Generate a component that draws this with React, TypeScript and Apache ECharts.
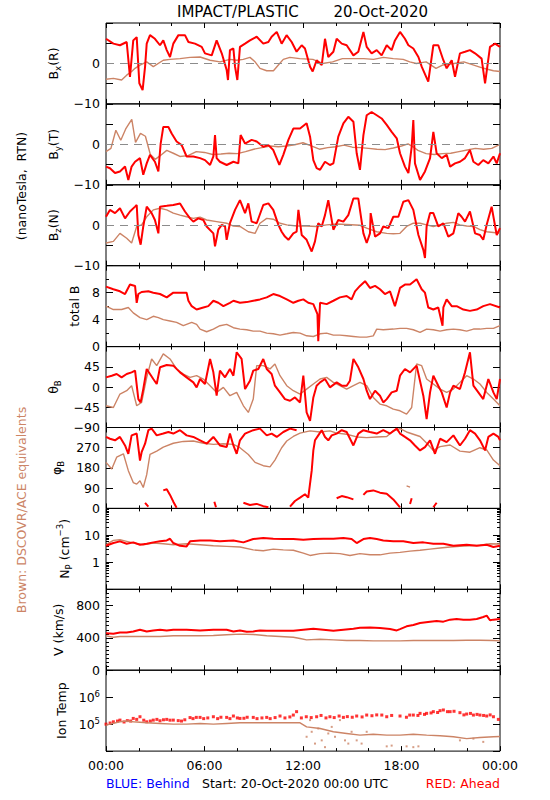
import React, { useEffect, useRef } from 'react';
import * as echarts from 'echarts';

const RED = '#ff0000';
const BROWN = '#cc8466';
const FONT = 'DejaVu Sans';

// x axis: hours since 20-Oct-2020 00:00 UTC
const xTickLabels = ['00:00', '06:00', '12:00', '18:00', '00:00'];

// ---- Bx (R) ----
const bxRed = [[0,6.1],[0.45,4.9],[0.85,4.5],[1.26,5.3],[1.46,-3.3],[1.66,5.7],[1.87,6.5],[2.03,-4.9],[2.23,-6.6],[2.38,-0.8],[2.48,4.9],[2.68,7],[2.98,6.1],[3.29,4.5],[3.49,5.7],[3.7,3.3],[3.9,1.6],[4.1,4.9],[4.41,7],[4.81,7],[5.02,5.3],[5.42,4.9],[5.83,4.1],[6.03,2.5],[6.44,2],[6.74,5.7],[7.05,2.5],[7.35,-1.6],[7.43,-4.1],[7.55,3.3],[7.76,3.7],[7.86,-0.8],[8,-4.1],[8.16,4.1],[8.47,4.9],[8.77,5.7],[9.18,6.6],[9.58,4.9],[9.89,5.3],[10.09,6.6],[10.4,7.8],[10.7,4.9],[11,7],[11.31,5.3],[11.61,2.9],[11.92,4.5],[12.12,3.7],[12.43,-0.8],[12.59,-2],[12.83,0.8],[13.14,-0.4],[13.34,6.1],[13.54,1.6],[13.85,2.9],[14.05,6.1],[14.36,4.9],[14.66,4.5],[15.07,2],[15.37,2.9],[15.68,7.8],[15.88,4.1],[16.18,2.5],[16.49,3.3],[16.79,2],[17.1,4.5],[17.4,3.3],[17.6,5.7],[17.91,7.8],[18.21,6.1],[18.42,4.5],[18.72,3.7],[19.03,1.6],[19.23,-0.8],[19.63,-4.5],[19.94,4.5],[20.24,4.5],[20.55,0.8],[20.75,-1.2],[21.06,0.8],[21.26,-3.3],[21.56,2.5],[21.87,2.9],[22.17,3.3],[22.48,2.5],[22.88,1.2],[23.09,-4.9],[23.39,4.1],[23.7,4.9],[24,4.1]];
const bxBrown = [[0,-3.9],[0.45,-3.7],[0.95,-4.1],[1.26,-2.9],[1.56,-2],[1.77,-1.2],[2.07,-0.4],[2.48,0.4],[2.88,-0.8],[3.49,0.8],[3.9,1],[4.51,1.2],[5.12,1.5],[5.73,1.6],[6.34,0.8],[6.95,0.4],[7.55,1],[7.96,0.8],[8.36,1],[8.77,1.5],[9.08,0.4],[9.38,-1.2],[9.79,-1.8],[10.2,-1.8],[10.5,-0.4],[10.8,1],[11.2,1.5],[11.8,1.2],[12.6,1],[13.2,0],[13.8,0.4],[14.4,1.2],[15,1.2],[15.7,1.2],[16.3,1],[16.9,1.5],[17.5,1.2],[18.1,1],[18.5,0.4],[18.9,0],[19.5,0.4],[20.1,-1.2],[20.5,-0.4],[21.2,0],[21.8,0.4],[22.4,-0.4],[23,-1.2],[23.6,-1.8],[24,-2]];

// ---- By (T) ----
const byRed = [[0,-5.5],[0.24,-5.9],[0.55,-7.1],[0.85,-6.7],[1.16,-5.5],[1.36,-8.8],[1.56,-5.5],[1.77,-4.3],[2.07,-3.4],[2.27,-7.5],[2.48,-4.7],[2.68,-2.6],[2.98,-4.3],[3.19,-6.7],[3.33,0.2],[3.49,4.3],[3.8,4.3],[4,2.7],[4.3,0.7],[4.61,-0.2],[4.91,-3],[5.32,-3],[5.73,-3.4],[6.03,-3.9],[6.34,-5.1],[6.54,-3],[6.64,2.3],[6.74,-3.4],[6.94,-4.3],[7.35,-5.1],[7.76,-4.3],[8.06,-4.7],[8.2,2.3],[8.47,0.2],[8.87,1.1],[9.18,0.7],[9.58,-0.6],[9.89,-0.2],[10.19,-1.4],[10.56,-5.1],[10.8,-2.6],[11.11,1.1],[11.41,3.9],[11.82,3.9],[12.22,5.2],[12.43,1.9],[12.63,-3.9],[12.83,-5.9],[13.04,-6.3],[13.34,-4.3],[13.64,-5.1],[13.85,-4.7],[14.15,1.9],[14.46,5.2],[14.76,6.8],[15.07,5.6],[15.27,-2.2],[15.47,-6.3],[15.68,2.3],[15.88,7.2],[16.18,8],[16.49,7.2],[16.79,6.4],[17.1,4.8],[17.4,3.1],[17.71,1.5],[17.91,-2.2],[18.21,-5.5],[18.42,-7.1],[18.62,-0.6],[18.72,6],[18.82,-4.7],[19.13,-8.8],[19.43,-6.7],[19.74,-3.4],[19.94,3.1],[20.14,-2.2],[20.45,-3.4],[20.75,-2.6],[20.96,-5.5],[21.26,-4.7],[21.56,-4.3],[21.87,-3.4],[22.17,-1.4],[22.38,-4.3],[22.68,-5.1],[22.98,-3.9],[23.29,-4.7],[23.6,-3],[23.8,-4.7],[24,-2.2]];
const byBrown = [[0,-1.8],[0.3,-1],[0.6,3.5],[0.9,1],[1.2,3.8],[1.57,6.2],[1.8,0.5],[2.1,2.7],[2.4,2],[2.7,-2.5],[3,-3.7],[3.3,-2.8],[3.7,-1.5],[4.1,-2.2],[4.5,-3],[5,-2.8],[5.5,-1.8],[6,-2],[6.5,-2.5],[7,-2.4],[7.5,-2.2],[8,-2.3],[8.5,-1.8],[9,-1.2],[9.5,-0.8],[10,-0.4],[10.5,-0.6],[11,-0.4],[11.5,-0.1],[12,0.4],[12.5,-0.4],[13,-1.2],[13.5,-0.8],[14,-0.6],[14.5,-0.2],[15,-0.7],[15.5,-0.8],[16,-1],[16.5,-1.2],[17,-1.3],[17.5,-0.9],[18,-0.4],[18.4,0.1],[18.7,-0.6],[19,-1.5],[19.5,-2.3],[20,-2.5],[20.5,-2.3],[21,-2.2],[21.5,-1.8],[22,-1.4],[22.5,-1],[23,-1.2],[23.5,-1],[24,0]];

// ---- Bz (N) ----
const bzRed = [[0,2.1],[0.24,3.8],[0.55,3],[0.85,4.2],[1.16,1.7],[1.46,3.4],[1.77,4.6],[1.87,5],[1.97,-2.4],[2.11,-4.8],[2.27,-0.3],[2.48,4.6],[2.78,3],[2.98,1.3],[3.19,-2],[3.29,4.6],[3.7,4.8],[4.1,5],[4.51,5.4],[4.81,3.4],[5.12,1.7],[5.32,0.9],[5.62,1.7],[5.93,1.3],[6.13,-0.3],[6.54,-2],[6.64,-5.2],[6.84,-1.1],[7.05,0.1],[7.25,-0.3],[7.35,-3.6],[7.55,0.5],[7.86,3.8],[8.16,6.2],[8.47,3],[8.67,5.4],[8.87,0.9],[9.18,0.5],[9.58,5],[9.89,5.4],[10.19,3.8],[10.5,0.1],[10.7,-1.6],[10.9,-2.8],[11.11,-3.6],[11.41,-2],[11.61,-1.6],[11.72,3.8],[11.92,-2.4],[12.22,-3.6],[12.53,-6.5],[12.73,-4],[12.93,0.5],[13.14,-0.3],[13.34,2.5],[13.54,6.2],[13.85,-1.1],[14.15,1.3],[14.46,0.9],[14.76,2.5],[15.07,6.6],[15.37,6.6],[15.47,3.8],[15.68,-2],[15.88,-4.4],[16.08,-2],[16.12,3],[16.39,-2.8],[16.69,-2],[16.89,-0.3],[17.2,-0.7],[17.5,2.1],[17.81,2.1],[18.11,5.8],[18.42,6.2],[18.72,3.8],[19.03,-2.4],[19.33,-6.1],[19.43,-8.1],[19.53,-0.3],[19.74,3],[19.94,3],[20.24,-0.3],[20.55,0.5],[20.85,-2.8],[21.16,-2],[21.46,3],[21.66,2.1],[21.87,0.9],[22.17,3.4],[22.48,-2],[22.78,-2.4],[22.98,-3.6],[23.19,0.1],[23.49,4.6],[23.8,-2.4],[24,-0.7]];
const bzBrown = [[0,-4.4],[0.45,-4],[0.85,-2],[1.26,-3.2],[1.56,-4.4],[1.87,-0.3],[2.17,0.1],[2.48,2.1],[2.88,3.8],[3.29,4.2],[3.7,3.8],[4.1,3],[4.51,2.5],[4.91,2.1],[5.32,1.7],[5.73,2],[6.13,1.3],[6.74,0.9],[7.35,0.5],[7.76,-0.2],[8.16,-0.3],[8.67,-1.6],[9.08,-2],[9.38,0.5],[9.79,1.7],[10.19,1.5],[10.6,0.5],[11.01,0.1],[11.61,-0.2],[12.22,-0.2],[12.83,-0.3],[13.44,0.1],[14.05,0.3],[14.66,0.2],[15.47,0],[15.88,-0.7],[16.49,-1.6],[17.1,-2],[17.5,-2.1],[17.91,-2],[18.31,-0.3],[18.72,0.5],[19.13,0.5],[19.53,0.1],[19.94,-0.3],[20.35,0.1],[20.75,0.5],[21.16,0.7],[21.56,0.1],[21.97,-0.2],[22.38,-0.3],[22.78,-1.1],[23.19,-1.6],[23.6,-1.8],[24,-2]];

// ---- total B ----
const btRed = [[0,8.9],[0.45,8.5],[0.85,8.2],[1.16,7.8],[1.46,9.2],[1.77,9],[1.87,6.5],[1.97,7.8],[2.17,8.1],[2.58,8.2],[2.88,8],[3.29,7.8],[3.7,7.3],[4.1,8],[4.51,8],[4.91,8],[5.02,6.8],[5.22,6],[5.52,5.5],[5.93,5.8],[6.23,6],[6.54,6.8],[6.84,6.5],[7.15,6],[7.55,6.5],[7.76,6.8],[8.16,6.5],[8.57,6.6],[8.97,6.8],[9.38,7],[9.79,7.3],[10.19,7.8],[10.6,7.5],[11.01,7],[11.41,6.5],[11.72,6.8],[12.02,7],[12.32,6.5],[12.63,6.3],[12.88,4.8],[12.93,0.8],[13.04,6.5],[13.44,6.3],[13.85,6.8],[14.25,7.3],[14.66,7.5],[14.96,7],[15.17,8.2],[15.47,9],[15.78,9.7],[16.08,8.7],[16.39,9],[16.69,8.5],[16.99,7.8],[17.3,8.2],[17.6,6],[17.91,8.7],[18.21,9.2],[18.52,9.2],[18.92,10],[19.23,8.5],[19.43,8],[19.63,5.8],[19.94,5.5],[20.24,5.8],[20.5,3.1],[20.55,5.8],[20.75,7],[21.06,6],[21.36,6],[21.77,5.5],[22.17,5.3],[22.58,5.5],[22.98,6],[23.39,6.3],[24,5.8]];
const btBrown = [[0,6],[0.45,5.5],[0.95,5.5],[1.36,5.8],[1.66,5],[2.07,4.3],[2.48,4],[2.88,4.5],[3.19,4.3],[3.49,4],[3.9,3.8],[4.3,3.6],[4.71,3.1],[5.22,3.6],[5.52,3.3],[5.73,2.6],[6.13,2.2],[6.54,2.6],[6.94,3.1],[7.35,3.3],[7.76,2.8],[8.16,2.6],[8.57,2.5],[8.97,2.3],[9.38,2.3],[9.79,2],[10.19,1.9],[10.6,1.7],[11.01,1.9],[11.41,2.1],[11.82,2],[12.22,1.6],[12.63,1.5],[13.04,1.9],[13.44,2],[13.85,1.7],[14.25,1.7],[14.66,1.6],[15.07,1.5],[15.47,1.4],[15.88,1.4],[16.28,1.6],[16.49,2.6],[16.89,2.5],[17.5,2.6],[17.91,2.7],[18.31,2.7],[18.72,2.5],[19.13,2.1],[19.53,2.6],[19.94,2.5],[20.35,2.3],[20.75,2.5],[21.16,2.6],[21.56,2.5],[21.97,2.3],[22.38,2.6],[22.78,2.6],[23.19,2.7],[23.6,2.7],[24,3.1]];

// ---- theta B ----
const thRed = [[0,21.6],[0.35,25.3],[0.65,29],[0.95,21.6],[1.26,29],[1.56,32.7],[1.77,36.5],[1.97,-26.8],[2.11,-34.2],[2.27,-4.5],[2.48,40.2],[2.68,29],[2.88,17.9],[3.09,6.7],[3.29,43.9],[3.7,49.1],[4.1,47.6],[4.51,32.7],[4.91,21.6],[5.32,10.4],[5.52,-0.7],[5.73,17.9],[6.03,6.7],[6.34,62.5],[6.54,32.7],[6.74,-19.3],[6.94,36.5],[7.25,21.6],[7.55,40.2],[7.76,25.3],[7.96,77.4],[8.26,62.5],[8.47,-4.5],[8.77,14.1],[8.97,36.5],[9.28,40.2],[9.58,62.5],[9.79,40.2],[10.09,29],[10.29,3],[10.6,-11.9],[10.9,-26.8],[11.21,-30.5],[11.51,-23.1],[11.82,-34.2],[12.02,25.3],[12.22,-56.5],[12.43,-75.1],[12.63,-23.1],[12.83,3],[13.04,10.4],[13.34,17.9],[13.64,-0.7],[14.05,10.4],[14.36,3],[14.66,3],[14.86,14.1],[15.07,62.5],[15.37,43.9],[15.68,17.9],[15.88,-8.2],[16.08,-26.8],[16.39,-8.2],[16.69,-19.3],[16.89,-34.2],[17.1,-26.8],[17.4,-11.9],[17.71,-8.2],[17.91,25.3],[18.21,40.2],[18.52,32.7],[18.92,47.6],[19.33,-19.3],[19.53,-71.4],[19.74,-11.9],[19.94,25.3],[20.24,3],[20.45,-11.9],[20.75,-45.4],[20.96,-11.9],[21.16,3],[21.56,-4.5],[21.87,32.7],[22.17,77.4],[22.38,3],[22.68,-11.9],[22.98,-26.8],[23.29,17.9],[23.6,-11.9],[23.8,-26.8],[24,17.9]];
const thBrown = [[0,-41.7],[0.45,-45.4],[0.85,-15.6],[1.26,-8.2],[1.56,3],[1.87,-41.7],[2.17,-34.2],[2.48,21.6],[2.78,62.5],[3.09,47.6],[3.49,73.7],[3.9,62.5],[4.3,40.2],[4.71,29],[5.12,21.6],[5.52,25.3],[5.93,17.9],[6.34,3],[6.74,-11.9],[7.15,-0.7],[7.55,-19.3],[7.96,-11.9],[8.37,-41.7],[8.67,-56.5],[8.97,-26.8],[9.18,47.6],[9.58,47.6],[9.99,40.2],[10.29,51.3],[10.6,25.3],[11.01,3],[11.41,-8.2],[11.82,-15.6],[12.22,-4.5],[12.63,6.7],[13.04,17.9],[13.44,21.6],[13.85,10.4],[14.25,3],[14.66,-4.5],[15.07,3],[15.47,10.4],[15.88,3],[16.28,-23.1],[16.69,-37.9],[17.1,-41.7],[17.5,-49.1],[17.91,-52.8],[18.31,-60.3],[18.62,-45.4],[18.92,51.3],[19.23,47.6],[19.53,17.9],[19.94,6.7],[20.35,-4.5],[20.75,-11.9],[21.16,-4.5],[21.56,10.4],[21.97,25.3],[22.38,17.9],[22.78,6.7],[23.19,-11.9],[23.6,-26.8],[24,-41.7]];

// ---- phi B (null = gap where the angle wraps) ----
const phRed = [[0,318],[0.24,310],[0.55,303],[0.85,318],[1.16,280],[1.36,243],[1.56,325],[1.87,333],[2.07,213],[2.17,250],[2.38,288],[2.58,348],[2.78,355],[3.09,325],[3.49,333],[3.8,340],[4.1,333],[4.51,348],[4.91,325],[5.32,318],[5.73,303],[6.13,288],[6.54,318],[6.94,280],[7.35,273],[7.55,333],[7.76,280],[7.96,243],[8.16,303],[8.47,333],[8.97,348],[9.38,355],[9.79,325],[10.09,333],[10.4,318],[10.8,340],[11.21,355],[11.61,348],[11.7,null],
  [2.38,25],[2.58,8],[2.6,null],
  [3.49,80],[3.7,85],[3.9,60],[4.1,30],[4.3,3],[4.35,null],
  [6.6,30],[6.7,5],[6.75,null],
  [8.37,25],[8.77,15],[9.18,20],[9.58,10],[9.89,5],[9.95,null],
  [11.21,8],[11.51,33],[11.82,48],[12.12,63],[12.32,48],[12.53,168],[12.63,258],[12.73,303],[12.93,325],[13.14,348],[13.34,318],[13.54,303],[13.75,325],[14.05,333],[14.36,348],[14.66,340],[15.07,280],[15.37,333],[15.68,348],[16.08,340],[16.49,333],[16.89,348],[17.3,333],[17.71,355],[17.91,333],[18.21,318],[18.52,303],[18.82,280],[19.13,258],[19.43,273],[19.74,303],[20.04,243],[20.35,310],[20.75,295],[21.16,325],[21.56,280],[21.87,310],[22.17,348],[22.48,333],[22.78,303],[23.09,258],[23.29,318],[23.6,333],[23.9,318],[24,303],[24,null],
  [14.05,45],[14.36,55],[14.66,50],[15.07,40],[15.1,null],
  [15.68,60],[15.88,75],[16.28,80],[16.69,70],[17.1,65],[17.5,40],[17.91,5],[17.95,null],
  [18.52,20],[18.62,45],[18.65,null],
  [19.94,5],[20.14,25]];
const phBrown = [[0,205],[0.35,175],[0.65,228],[1.06,243],[1.36,168],[1.66,115],[1.87,108],[2.07,123],[2.27,93],[2.48,150],[2.68,240],[3.09,255],[3.49,273],[4.1,290],[4.71,298],[5.32,300],[5.93,290],[6.54,285],[7.15,288],[7.76,285],[8.16,270],[8.67,240],[9.08,205],[9.58,190],[9.99,185],[10.29,215],[10.7,270],[11.01,300],[11.41,320],[11.82,335],[12.43,345],[13.04,340],[13.64,345],[14.05,335],[14.66,330],[15.27,318],[15.88,315],[16.49,318],[17.1,320],[17.5,345],[17.91,355],[18.31,340],[18.72,330],[19.13,320],[19.54,290],[19.94,258],[20.35,275],[20.96,282],[21.56,255],[22.17,250],[22.78,270],[23.19,260],[23.6,215],[24,190],[24,null],[18.31,100],[18.52,95]];

// ---- N_P (cm^-3) ----
const npRed = [[0,4.1],[0.45,5.2],[0.85,6],[1.26,4.9],[1.66,5.5],[2.07,4.5],[2.48,4.9],[2.88,5.5],[3.29,6],[3.7,6.5],[3.9,7.5],[4.1,5.2],[4.51,4.1],[4.91,3.9],[5.12,6],[5.73,6.5],[6.34,6.5],[6.94,6],[7.76,6.5],[8.37,5.5],[8.97,7.3],[9.58,8],[10.19,7.5],[10.8,7.3],[11.41,7.3],[12.02,6.9],[12.63,7.3],[13.24,7.5],[13.85,7.5],[14.46,8],[14.96,7.3],[15.27,5.2],[15.68,7.3],[16.08,8],[16.49,7.3],[16.89,6.5],[17.5,6],[18.11,6],[18.72,5.2],[19.33,5.5],[19.94,4.9],[20.55,4.9],[21.16,4.1],[21.97,4.5],[22.58,4.1],[23.19,4.5],[23.6,3.7],[24,4.1]];
const npBrown = [[0,4.5],[0.45,6.5],[0.85,6.9],[1.26,6],[1.66,5.2],[2.27,4.5],[2.88,5.2],[3.49,4.9],[4.1,4.5],[4.91,4.9],[5.73,4.5],[6.54,4.1],[7.35,3.9],[8.16,3.7],[8.97,2.9],[9.58,2.7],[10.19,3.1],[10.8,2.9],[11.41,2.8],[12.02,2.2],[12.43,1.8],[13.04,2.1],[13.64,2.2],[14.25,2.1],[14.86,1.8],[15.47,2.1],[16.08,1.9],[16.69,1.9],[17.3,2.2],[17.91,2.35],[18.52,2.6],[19.13,2.8],[19.74,3.1],[20.35,3.4],[20.96,3.7],[21.56,3.9],[22.17,4.1],[22.78,4.3],[23.39,4.9],[24,4.8]];

// ---- V (km/s) ----
const vRed = [[0,458],[0.45,450],[0.85,467],[1.26,467],[1.66,479],[2.07,500],[2.48,479],[2.88,492],[3.29,500],[3.7,492],[4.1,500],[4.91,500],[5.73,492],[6.54,500],[7.35,500],[7.76,479],[8.16,492],[8.57,475],[8.97,479],[9.38,492],[9.79,488],[10.6,488],[11.41,488],[12.02,500],[12.63,512],[13.24,500],[13.85,488],[14.46,500],[15.07,512],[15.47,525],[16.08,529],[16.69,521],[17.3,508],[17.71,492],[17.91,508],[18.31,542],[18.72,558],[19.13,583],[19.74,600],[20.14,608],[20.55,600],[20.96,625],[21.36,633],[21.77,625],[22.17,625],[22.58,633],[22.98,658],[23.19,675],[23.39,617],[23.6,625],[24,633]];
const vBrown = [[0,425],[0.45,408],[0.85,417],[1.66,417],[2.48,417],[3.29,417],[4.1,425],[4.91,425],[5.73,425],[6.54,429],[7.35,438],[8.16,446],[8.97,442],[9.79,425],[10.6,417],[11.41,408],[11.82,392],[12.22,375],[13.04,383],[13.85,375],[14.66,367],[15.47,367],[16.28,363],[17.1,363],[17.91,363],[18.72,367],[19.53,367],[20.35,367],[21.16,367],[21.97,371],[22.78,371],[23.6,367],[24,363]];

// ---- Ion Temp (K) ----
const tRed = [[0,1.0e5],[0.25,1.1e5],[0.45,1.22e5],[0.7,1.3e5],[0.85,1.41e5],[1.1,1.2e5],[1.3,1.35e5],[1.5,1.3e5],[1.66,1.63e5],[1.87,1.5e5],[2.07,1.88e5],[2.3,1.4e5],[2.48,1.22e5],[2.7,1.3e5],[2.88,1.41e5],[3.1,1.5e5],[3.29,1.33e5],[3.5,1.45e5],[3.7,1.5e5],[3.9,1.4e5],[4.1,1.41e5],[4.4,1.35e5],[4.6,1.3e5],[4.8,1.45e5],[5.12,1.75e5],[5.3,1.6e5],[5.5,1.78e5],[5.73,1.78e5],[5.95,1.6e5],[6.2,1.7e5],[6.54,1.88e5],[6.8,1.6e5],[7,1.8e5],[7.35,1.78e5],[7.55,1.6e5],[7.76,2.0e5],[8,1.7e5],[8.16,1.63e5],[8.4,1.65e5],[8.6,1.8e5],[8.97,1.78e5],[9.2,1.6e5],[9.5,1.7e5],[9.79,1.78e5],[10,1.6e5],[10.3,1.75e5],[10.6,2.0e5],[10.9,1.7e5],[11.2,1.85e5],[11.41,2.17e5],[11.61,2.9e5],[11.9,1.7e5],[12.2,1.88e5],[12.5,1.75e5],[12.83,1.88e5],[13.1,2.1e5],[13.4,1.7e5],[13.64,1.88e5],[13.9,1.75e5],[14.2,2.0e5],[14.46,1.78e5],[14.7,1.9e5],[15,1.8e5],[15.27,2.0e5],[15.6,1.85e5],[15.88,2.17e5],[16.2,2.05e5],[16.49,2.2e5],[16.8,2.17e5],[17.1,1.88e5],[17.4,2.1e5],[17.91,2.0e5],[18.3,1.8e5],[18.5,2.17e5],[18.72,2.17e5],[19,2.1e5],[19.13,2.51e5],[19.4,2.3e5],[19.53,2.51e5],[19.8,2.6e5],[19.94,2.9e5],[20.2,2.7e5],[20.35,3.16e5],[20.55,3.35e5],[20.8,2.9e5],[20.96,2.9e5],[21.2,3.0e5],[21.56,2.66e5],[21.8,2.2e5],[21.97,2.37e5],[22.2,2.5e5],[22.38,2.17e5],[22.6,2.3e5],[22.78,2.17e5],[23,2.1e5],[23.19,2.0e5],[23.4,2.2e5],[23.6,1.88e5],[23.9,1.5e5]];
const tBrown = [[0,0.92e5],[0.85,1.22e5],[1.26,1.3e5],[1.66,1.22e5],[2.48,1.12e5],[3.29,1.06e5],[4.1,1.0e5],[4.91,1.0e5],[5.73,1.06e5],[6.54,1.0e5],[7.35,1.06e5],[8.16,1.12e5],[8.97,1.12e5],[9.79,1.12e5],[10.6,1.12e5],[11.41,1.12e5],[11.82,1.12e5],[12.22,0.79e5],[13.04,0.69e5],[13.85,0.52e5],[14.66,0.45e5],[15.47,0.39e5],[16.28,0.42e5],[17.1,0.39e5],[17.91,0.39e5],[18.72,0.42e5],[19.53,0.39e5],[20.35,0.37e5],[21.16,0.34e5],[21.97,0.29e5],[22.78,0.32e5],[23.6,0.34e5],[24,0.35e5]];
const tBrownScatter = [[12.22,3.4e4],[12.43,1.41e5],[12.53,5.2e4],[12.73,1.9e4],[12.93,6.9e4],[13.14,2.5e4],[13.34,1.4e4],[13.54,4.5e4],[13.75,7.9e4],[13.95,3.4e4],[14.25,1.41e5],[14.56,2.5e4],[14.76,1.9e4],[14.96,5.2e4],[15.27,2.5e4],[15.57,1.9e4],[15.88,5.2e4],[17.1,1.5e4],[17.4,1.6e4],[18.31,1.5e4],[18.72,1.4e4],[19.03,1.5e4],[21.56,2.5e4],[22.38,2.9e4],[22.98,2.2e4]];

// y-axis tick labels shown per panel
const bLabels = [-10, 0];
const btLabels = [0, 4, 8];
const thLabels = [-90, -45, 0, 45];
const phLabels = [0, 90, 180, 270];
const npLabels = [1, 10];
const vLabels = [0, 400, 800];
const tLabels = [1e5, 1e6];
const npMinor = [0.2,0.3,0.4,0.5,0.6,0.7,0.8,0.9,2,3,4,5,6,7,8,9,20,30,40,50,60,70,80,90];

const PANEL_TOP = 23;
const PANEL_H = 80.9;
const PLOT_LEFT = 106;
const PLOT_W = 394;

const fmtNum = (v: number) => (v < 0 ? '\u2212' + Math.abs(v) : String(v));
const inList = (v: number, list: number[]) => list.some((l) => Math.abs(v - l) <= 1e-6 * Math.max(1, Math.abs(l)));

type Panel = {
  name: string;
  nameGap: number;
  log?: boolean;
  min: number;
  max: number;
  interval?: number;
  minorSplit?: number;
  logMinor?: number[];
  labels: number[];
  fmt: (v: number) => string;
  red: any[];
  brown: any[];
  zero?: boolean;
  redScatter?: boolean;
  brownScatter?: any[];
};

const panels: Panel[] = [
  { name: '{b|B}{s|x}{b|(R)}', nameGap: 34, min: -10, max: 10, interval: 5, labels: bLabels, fmt: fmtNum, red: bxRed, brown: bxBrown, zero: true },
  { name: '{b|B}{s|y}{b|(T)}', nameGap: 34, min: -10, max: 10, interval: 5, labels: bLabels, fmt: fmtNum, red: byRed, brown: byBrown, zero: true },
  { name: '{b|B}{s|z}{b|(N)}', nameGap: 34, min: -10, max: 10, interval: 5, labels: bLabels, fmt: fmtNum, red: bzRed, brown: bzBrown, zero: true },
  { name: '{b|total B}', nameGap: 19, min: 0, max: 12, interval: 4, minorSplit: 2, labels: btLabels, fmt: fmtNum, red: btRed, brown: btBrown },
  { name: '{b|\u03b8}{s|B}', nameGap: 34, min: -90, max: 90, interval: 45, labels: thLabels, fmt: fmtNum, red: thRed, brown: thBrown },
  { name: '{b|\u03c6}{s|B}', nameGap: 36, min: 0, max: 360, interval: 90, labels: phLabels, fmt: fmtNum, red: phRed, brown: phBrown },
  { name: '{b|N}{s|P}{b| (cm}{p|\u22123}{b|)}', nameGap: 27, log: true, min: 0.1, max: 100, logMinor: npMinor, labels: npLabels, fmt: (v) => String(Math.round(v)), red: npRed, brown: npBrown },
  { name: '{b|V (km/s)}', nameGap: 34, min: 0, max: 1000, interval: 400, minorSplit: 8, labels: vLabels, fmt: fmtNum, red: vRed, brown: vBrown },
  { name: '{b|Ion Temp}', nameGap: 32, log: true, min: 1e4, max: 1e7, labels: tLabels, fmt: (v) => '{t|10}{e|' + Math.round(Math.log10(v)) + '}', red: tRed, brown: tBrown, redScatter: true, brownScatter: tBrownScatter },
];

const nameRich = {
  b: { fontSize: 12.5, fontFamily: FONT, color: '#000', lineHeight: 18, verticalAlign: 'middle' },
  s: { fontSize: 8.5, fontFamily: FONT, color: '#000', lineHeight: 18, verticalAlign: 'bottom' },
  p: { fontSize: 8.5, fontFamily: FONT, color: '#000', lineHeight: 18, verticalAlign: 'top' },
};
const labelRich = {
  t: { fontSize: 12.5, fontFamily: FONT, color: '#000', lineHeight: 16, verticalAlign: 'middle' },
  e: { fontSize: 8.5, fontFamily: FONT, color: '#000', lineHeight: 16, verticalAlign: 'top' },
};

function buildOption() {
  const grid: any[] = [];
  const xAxis: any[] = [];
  const yAxis: any[] = [];
  const series: any[] = [];

  panels.forEach((p, i) => {
    const top = PANEL_TOP + i * PANEL_H;
    grid.push({ left: PLOT_LEFT, width: PLOT_W, top, height: PANEL_H, show: true, borderColor: '#000', borderWidth: 1, backgroundColor: 'transparent' });

    const xIdx = xAxis.length;
    ['bottom', 'top'].forEach((pos) => {
      xAxis.push({
        type: 'value', gridIndex: i, position: pos, min: 0, max: 24, interval: 6,
        axisLine: { show: false, onZero: false },
        axisTick: { show: true, inside: true, length: 5, lineStyle: { color: '#000' } },
        minorTick: { show: true, splitNumber: 3, length: 3, lineStyle: { color: '#000' } },
        splitLine: { show: false },
        axisLabel: {
          show: pos === 'bottom' && i === panels.length - 1,
          formatter: (v: number) => xTickLabels[Math.round(v / 6)] ?? '',
          fontSize: 12.5, fontFamily: FONT, color: '#000', margin: 8,
          showMinLabel: true, showMaxLabel: true,
        },
      });
    });

    const yIdx = yAxis.length;
    ['left', 'right'].forEach((pos) => {
      yAxis.push({
        type: p.log ? 'log' : 'value', logBase: 10, gridIndex: i, position: pos,
        min: p.min, max: p.max, interval: p.log ? undefined : p.interval,
        axisLine: { show: false, onZero: false },
        axisTick: { show: true, inside: true, length: 7, lineStyle: { color: '#000' } },
        minorTick: p.minorSplit ? { show: true, splitNumber: p.minorSplit, length: 3, lineStyle: { color: '#000' } } : { show: false },
        splitLine: { show: false },
        axisLabel: pos === 'left' ? {
          show: true, margin: 6, fontSize: 12.5, fontFamily: FONT, color: '#000',
          formatter: (v: number) => (inList(v, p.labels) ? p.fmt(v) : ''),
          rich: labelRich,
        } : { show: false },
        name: pos === 'left' ? p.name : '',
        nameLocation: 'middle', nameRotate: 90, nameGap: p.nameGap,
        nameTextStyle: { rich: nameRich },
      });
    });
    if (p.logMinor) {
      ['left', 'right'].forEach((pos) => {
        yAxis.push({
          type: 'value', gridIndex: i, position: pos,
          min: Math.log10(p.min), max: Math.log10(p.max),
          axisLine: { show: false, onZero: false },
          axisTick: { show: true, inside: true, length: 3, customValues: p.logMinor!.map((v) => Math.log10(v)), lineStyle: { color: '#000' } },
          splitLine: { show: false },
          axisLabel: { show: false },
        });
      });
    }

    series.push({
      type: 'line', xAxisIndex: xIdx, yAxisIndex: yIdx, data: p.brown, showSymbol: false, symbol: 'none',
      connectNulls: false, lineStyle: { color: BROWN, width: 1.4 }, itemStyle: { color: BROWN },
      markLine: p.zero ? { silent: true, symbol: 'none', label: { show: false }, lineStyle: { color: '#8c8c8c', type: [8, 6], width: 1 }, data: [{ yAxis: 0 }] } : undefined,
    });
    if (p.brownScatter) {
      series.push({ type: 'scatter', xAxisIndex: xIdx, yAxisIndex: yIdx, data: p.brownScatter, symbol: 'rect', symbolSize: 2, itemStyle: { color: BROWN } });
    }
    if (p.redScatter) {
      series.push({ type: 'scatter', xAxisIndex: xIdx, yAxisIndex: yIdx, data: p.red, symbol: 'rect', symbolSize: 3, itemStyle: { color: RED } });
    } else {
      series.push({
        type: 'line', xAxisIndex: xIdx, yAxisIndex: yIdx, data: p.red, showSymbol: false, symbol: 'none',
        connectNulls: false, lineStyle: { color: RED, width: 2 }, itemStyle: { color: RED },
      });
    }
  });

  const txt = (text: string, x: number, y: number, fill: string, align: string, extra: any = {}) => ({
    type: 'text', x, y, silent: true, ...extra,
    style: { text, fill, align, verticalAlign: 'middle', font: `${extra.size || 12.5}px "${FONT}"` },
  });

  const graphic = [
    txt('IMPACT/PLASTIC', 177, 12, '#000', 'left', { size: 15 }),
    txt('20-Oct-2020', 428, 12, '#000', 'right', { size: 15 }),
    txt('(nanoTesla,  RTN)', 21, 186, '#000', 'center', { rotation: Math.PI / 2 }),
    txt('Brown: DSCOVR/ACE equivalents', 21, 510, BROWN, 'center', { rotation: Math.PI / 2 }),
    txt('BLUE: Behind', 106, 783, '#0000ff', 'left'),
    txt('Start: 20-Oct-2020 00:00 UTC', 202, 783, '#000', 'left'),
    txt('RED: Ahead', 500, 783, RED, 'right'),
  ].map(({ size, ...g }: any) => g);

  return { animation: false, backgroundColor: '#fff', grid, xAxis, yAxis, series, graphic };
}

export default function App() {
  const ref = useRef<HTMLDivElement>(null);
  useEffect(() => {
    if (!ref.current) return;
    const chart = echarts.init(ref.current, null, { renderer: 'svg' });
    chart.setOption(buildOption() as any);
    return () => chart.dispose();
  }, []);
  return <div ref={ref} style={{ position: 'absolute', left: 0, top: 0, width: 550, height: 800 }} />;
}
